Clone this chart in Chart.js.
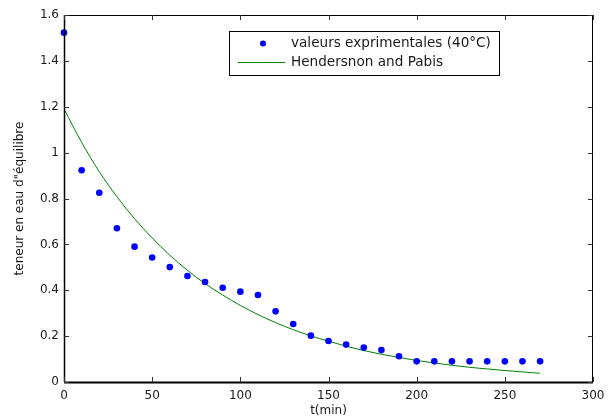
<!DOCTYPE html>
<html>
<head>
<meta charset="utf-8">
<script src="https://cdn.jsdelivr.net/npm/chart.js@4.4.0/dist/chart.umd.min.js"></script>
<style>
html,body{margin:0;padding:0;background:#fff;}
#wrap{width:612px;height:420px;position:relative;}
</style>
</head>
<body>
<div id="wrap"><canvas id="c" width="612" height="420"></canvas></div>
<script>
const seriesLabels = ['valeurs exprimentales (40°C)', 'Hendersnon and Pabis'];
const xTitle = 't(min)';
const yTitle = 'teneur en eau d"équilibre';
const times = [0,10,20,30,40,50,60,70,80,90,100,110,120,130,140,150,160,170,180,190,200,210,220,230,240,250,260,270];
const measured = [1.523,0.923,0.825,0.670,0.590,0.543,0.501,0.462,0.436,0.411,0.394,0.379,0.308,0.253,0.202,0.179,0.163,0.150,0.139,0.112,0.090,0.090,0.090,0.090,0.090,0.090,0.090,0.090];
const model = [1.19,1.045,0.917,0.808,0.712,0.628,0.553,0.487,0.429,0.379,0.334,0.294,0.259,0.228,0.201,0.178,0.156,0.137,0.121,0.107,0.094,0.083,0.073,0.064,0.057,0.050,0.044,0.038];
const xTicks = [0,50,100,150,200,250,300];
const yTicks = [0,0.2,0.4,0.6,0.8,1,1.2,1.4,1.6];

const FONT = 'DejaVu Sans';
const TXT = '#1a1a1a';
const pointColor = '#0000ff';
const lineColor = '#008000';

const matlabFrame = {
  id: 'matlabFrame',
  afterDraw(chart) {
    const {ctx, chartArea: a, scales: {x, y}} = chart;
    ctx.save();
    ctx.strokeStyle = '#000';
    ctx.lineWidth = 1;
    ctx.strokeRect(a.left + 0.5, a.top + 0.5, a.right - a.left - 1, a.bottom - a.top);
    ctx.lineWidth = 2;
    ctx.beginPath();
    ctx.moveTo(a.left, a.bottom + 0.5);
    ctx.lineTo(a.right, a.bottom + 0.5);
    ctx.stroke();
    ctx.lineWidth = 1.5;
    ctx.beginPath();
    ctx.moveTo(a.left + 0.5, a.top);
    ctx.lineTo(a.left + 0.5, a.bottom);
    ctx.stroke();
    ctx.lineWidth = 1;
    ctx.strokeStyle = '#333';
    const L = 5;
    ctx.beginPath();
    x.ticks.forEach(t => {
      const p = Math.round(x.getPixelForValue(t.value)) + 0.5;
      ctx.moveTo(p, a.bottom); ctx.lineTo(p, a.bottom - L);
      ctx.moveTo(p, a.top); ctx.lineTo(p, a.top + L);
    });
    y.ticks.forEach(t => {
      const p = Math.round(y.getPixelForValue(t.value)) + 0.5;
      ctx.moveTo(a.left, p); ctx.lineTo(a.left + L, p);
      ctx.moveTo(a.right, p); ctx.lineTo(a.right - L, p);
    });
    ctx.stroke();
    const lx = a.left + 165, ly = a.top + 16, lw = 270, lh = 44;
    ctx.fillStyle = '#fff';
    ctx.fillRect(lx, ly, lw, lh);
    ctx.strokeStyle = '#000';
    ctx.lineWidth = 1;
    ctx.strokeRect(lx + 0.5, ly + 0.5, lw, lh);
    const ds = chart.data.datasets;
    const r1 = ly + 12.5, r2 = ly + 31.5;
    ctx.fillStyle = ds[0].backgroundColor;
    ctx.beginPath();
    ctx.arc(lx + 34, r1, 3, 0, Math.PI * 2);
    ctx.fill();
    ctx.strokeStyle = ds[1].borderColor;
    ctx.beginPath();
    ctx.moveTo(lx + 9, r2); ctx.lineTo(lx + 56, r2);
    ctx.stroke();
    ctx.fillStyle = TXT;
    ctx.font = '13.6px "' + FONT + '"';
    ctx.textBaseline = 'middle';
    ctx.textAlign = 'left';
    ctx.fillText(ds[0].label, lx + 62, r1);
    ctx.fillText(ds[1].label, lx + 62, r2);
    ctx.restore();
  }
};

new Chart(document.getElementById('c'), {
  type: 'scatter',
  data: {
    datasets: [
      {
        label: seriesLabels[0],
        data: times.map((t, i) => ({x: t, y: measured[i]})),
        showLine: false,
        pointRadius: 3.3,
        pointBorderWidth: 0,
        backgroundColor: pointColor,
        borderColor: pointColor,
        clip: false,
        order: 1
      },
      {
        label: seriesLabels[1],
        data: times.map((t, i) => ({x: t, y: model[i]})),
        showLine: true,
        pointRadius: 0,
        borderWidth: 1,
        borderColor: lineColor,
        backgroundColor: lineColor,
        cubicInterpolationMode: 'monotone',
        order: 2
      }
    ]
  },
  options: {
    responsive: false,
    animation: false,
    devicePixelRatio: 1,
    layout: {padding: {left: 0, top: 15, right: 19, bottom: 0}},
    plugins: {legend: {display: false}, tooltip: {enabled: false}},
    scales: {
      x: {
        type: 'linear', min: 0, max: 300,
        afterBuildTicks: s => { s.ticks = xTicks.map(v => ({value: v})); },
        afterFit: s => { s.height = 38; },
        grid: {display: false, drawTicks: false},
        border: {display: false},
        ticks: {font: {family: FONT, size: 12}, color: TXT, padding: 7, maxRotation: 0, autoSkip: false, callback: v => String(v)},
        title: {display: true, text: xTitle, color: TXT, font: {family: FONT, size: 12}, padding: {top: 0, bottom: 2}}
      },
      y: {
        type: 'linear', min: 0, max: 1.6,
        afterBuildTicks: s => { s.ticks = yTicks.map(v => ({value: v})); },
        afterFit: s => { s.width = 64; },
        grid: {display: false, drawTicks: false},
        border: {display: false},
        ticks: {font: {family: FONT, size: 12}, color: TXT, padding: 5, autoSkip: false, callback: v => String(v)},
        title: {display: true, text: yTitle, color: TXT, font: {family: FONT, size: 12}, padding: {top: 13, bottom: 0}}
      }
    }
  },
  plugins: [matlabFrame]
});
</script>
</body>
</html>
